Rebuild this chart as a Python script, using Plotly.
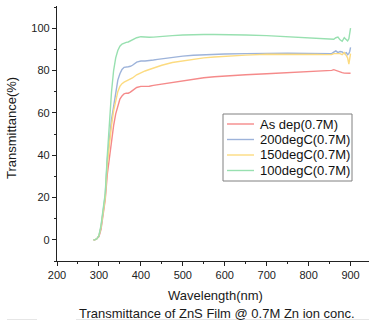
import plotly.graph_objects as go

wavelength = [287, 290, 295, 300, 305, 310, 315, 320, 325, 330, 335, 340, 345, 350, 355, 360,
              365, 370, 375, 380, 390, 400, 410, 420, 430, 440, 450, 475, 500, 525, 550, 575,
              600, 650, 700, 750, 800, 820, 840, 850, 855, 860, 865, 870, 875, 880, 885, 890,
              893, 896, 898, 900]

as_dep = [0, 0, 0.5, 1.5, 5, 11, 19, 31, 39, 47, 54, 59.5, 63.5, 66.5, 68, 69,
          69.3, 69.3, 69.8, 70.5, 72, 72.5, 72.5, 72.6, 73, 73.3, 73.8, 74.6, 75.3, 76, 76.6, 77.1,
          77.5, 78, 78.5, 79, 79.4, 79.5, 79.7, 79.8, 80.1, 80.4, 80, 79.7, 79.3, 79, 78.8, 78.7,
          78.6, 78.6, 78.5, 78.7]

deg200 = [0, 0, 0.5, 2, 6, 13, 21, 38, 49, 57, 63, 70, 75.5, 78.5, 80.5, 81.5,
          81.8, 81.8, 82, 82.5, 84, 84.5, 84.5, 84.6, 85, 85.3, 85.6, 86.3, 86.8, 87.2, 87.5, 87.7,
          87.8, 88, 88.2, 88.2, 88.1, 88, 88, 88, 88, 88.7, 89.3, 88.5, 89, 88.8, 88, 88.5,
          87.5, 88, 89, 91]

deg150 = [0, 0, 0.5, 2, 6, 12, 20, 36, 46, 54, 61, 66, 70, 72.5, 73.8, 74.5,
          75, 75.2, 75.8, 76.5, 78, 79, 79.8, 80.5, 81.2, 82, 82.5, 83.8, 84.6, 85.4, 86, 86.4,
          86.8, 87.3, 87.7, 87.8, 87.7, 87.6, 87.5, 87.5, 87.5, 88, 88, 88.3, 88, 87.5, 88.5, 87,
          86, 83, 86, 88]

deg100 = [0, 0, 0.5, 2, 7, 14, 22, 40, 56, 70, 80, 86, 89.5, 91.5, 92.5, 93,
          93.3, 93.5, 94, 94.5, 95.5, 96, 95.8, 95.7, 95.8, 96, 96.2, 96.5, 96.8, 97, 97, 97,
          97, 96.8, 96.5, 96, 95.2, 95, 95, 95, 95, 94.8, 95.5, 95.8, 94.5, 93.8, 95.5, 94.5,
          94, 95, 97, 100]

series_names = ["As dep(0.7M)", "200degC(0.7M)", "150degC(0.7M)", "100degC(0.7M)"]
series_values = [as_dep, deg200, deg150, deg100]
colors = ["#f58a8a", "#9db3da", "#fcdb80", "#98e0b0"]

x_ticks = [200, 300, 400, 500, 600, 700, 800, 900]
y_ticks = [0, 20, 40, 60, 80, 100]

FONT = "Liberation Sans, Arial, sans-serif"

fig = go.Figure()
for name, vals, col in zip(series_names, series_values, colors):
    fig.add_trace(go.Scatter(x=wavelength, y=vals, mode="lines", name=name,
                             line=dict(color=col, width=1.4), showlegend=False))

L, R, T, B = 57, 0, 6, 63
W, H = 369, 324
pw = W - L - R
ph = H - T - B

def px(x):
    return (x - L) / pw

def py(y):
    return (H - B - y) / ph

annotations = [
    dict(text="Wavelength(nm)", x=px(215), y=py(295), xref="paper", yref="paper",
         showarrow=False, font=dict(size=13, color="#1a1a1a"), xanchor="center", yanchor="middle"),
    dict(text="Transmittance of ZnS Film @ 0.7M Zn ion conc.", x=px(217), y=py(313),
         xref="paper", yref="paper", showarrow=False, font=dict(size=13, color="#1a1a1a"),
         xanchor="center", yanchor="middle"),
    dict(text="Transmittance(%)", x=px(12), y=py(128), xref="paper", yref="paper",
         showarrow=False, textangle=-90, font=dict(size=13, color="#1a1a1a"),
         xanchor="center", yanchor="middle"),
]

shapes = [
    dict(type="line", xref="paper", yref="paper", x0=px(7), x1=px(37), y0=py(319.5), y1=py(319.5),
         line=dict(color="#e6e6e6", width=1)),
    dict(type="line", xref="paper", yref="paper", x0=px(76), x1=px(369), y0=py(319.5), y1=py(319.5),
         line=dict(color="#e6e6e6", width=1)),
    # legend box
    dict(type="rect", xref="paper", yref="paper", x0=px(223), x1=px(352), y0=py(181), y1=py(114),
         line=dict(color="#808080", width=1), fillcolor="white", layer="above"),
]

legend_rows = [124, 139.5, 155, 170.5]
for name, col, yy in zip(series_names, colors, legend_rows):
    shapes.append(dict(type="line", xref="paper", yref="paper", x0=px(227), x1=px(254),
                       y0=py(yy), y1=py(yy), line=dict(color=col, width=1.4), layer="above"))
    annotations.append(dict(text=name, x=px(258), y=py(yy), xref="paper", yref="paper",
                            showarrow=False, xanchor="left", yanchor="middle",
                            font=dict(size=13, color="#111")))

fig.update_layout(
    width=W, height=H,
    margin=dict(l=L, r=R, t=T, b=B),
    paper_bgcolor="white", plot_bgcolor="white",
    font=dict(family=FONT, size=11, color="#222"),
    showlegend=False,
    xaxis=dict(
        range=[200, 944], tickvals=x_ticks, ticks="outside", ticklen=4, tickwidth=1,
        tickcolor="#222", showline=True, linecolor="#222", linewidth=1.3,
        showgrid=False, zeroline=False, tickfont=dict(size=11, color="#222"),
        minor=dict(ticks="outside", ticklen=2, dtick=50, tick0=200, tickcolor="#222", showgrid=False),
    ),
    yaxis=dict(
        range=[-10, 110.5], tickvals=y_ticks, ticks="outside", ticklen=4, tickwidth=1,
        tickcolor="#222", showline=True, linecolor="#222", linewidth=1.3,
        showgrid=False, zeroline=False, tickfont=dict(size=11, color="#222"),
        minor=dict(ticks="outside", ticklen=2, dtick=10, tick0=0, tickcolor="#222", showgrid=False),
    ),
    annotations=annotations,
    shapes=shapes,
)

fig.write_html("out.html", config={"displayModeBar": False},
               post_script="document.body.style.margin='0';document.body.style.padding='0';")
